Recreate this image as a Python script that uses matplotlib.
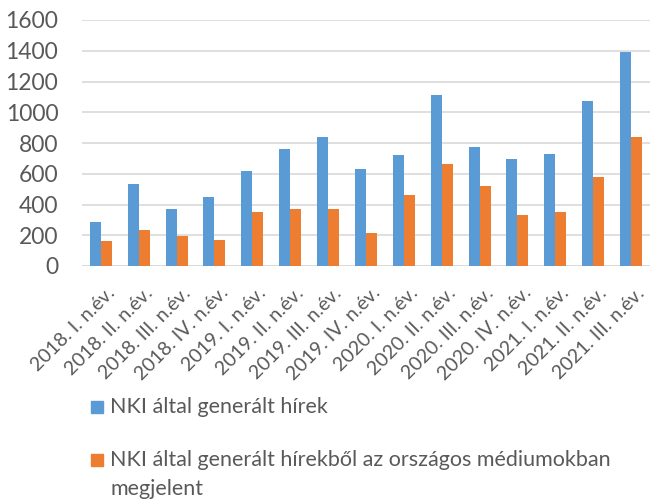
import matplotlib
matplotlib.use("Agg")
import matplotlib.pyplot as plt
import matplotlib.transforms as mtransforms
import numpy as np
from matplotlib.patches import Rectangle

categories = ["2018. I. n.év.", "2018. II. n.év.", "2018. III. n.év.", "2018. IV. n.év.",
              "2019. I. n.év.", "2019. II. n.év.", "2019. III. n.év.", "2019. IV. n.év.",
              "2020. I. n.év.", "2020. II. n.év.", "2020. III. n.év.", "2020. IV. n.év.",
              "2021. I. n.év.", "2021. II. n.év.", "2021. III. n.év."]
generated = [289, 533, 368, 452, 615, 761, 837, 630, 722, 1113, 774, 696, 730, 1076, 1393]
published = [161, 233, 194, 172, 352, 368, 368, 215, 461, 661, 520, 331, 348, 580, 837]
series_names = ["NKI által generált hírek",
                "NKI által generált hírekből az országos médiumokban\nmegjelent"]
yticks = [0, 200, 400, 600, 800, 1000, 1200, 1400, 1600]

blue = "#5B9BD5"
orange = "#ED7D31"
txt = "#595959"
plt.rcParams["font.family"] = ["Lato", "DejaVu Sans"]

fig = plt.figure(figsize=(6.5, 5), dpi=100)
ax = fig.add_axes([0.126, 0.468, 0.874, 0.492])
x = np.arange(len(categories))
w = 0.29
ax.bar(x - w / 2, generated, w, color=blue, zorder=3)
ax.bar(x + w / 2, published, w, color=orange, zorder=3)
ax.set_xlim(-0.5, len(categories) - 0.5)
ax.set_ylim(0, 1600)
ax.set_yticks(yticks)
ax.yaxis.grid(True, color="#d9d9d9", linewidth=1.2, zorder=0)
for s in ax.spines.values():
    s.set_visible(False)
ax.tick_params(axis="both", length=0, colors=txt)
ax.tick_params(axis="y", pad=17, labelsize=16.5)
ax.tick_params(axis="x", pad=13)
ax.set_xticks(x)
ax.set_xticklabels(categories, rotation=45, ha="right", rotation_mode="anchor", fontsize=14)
shift = mtransforms.ScaledTranslation(5 / 100, 0, fig.dpi_scale_trans)
for lab in ax.get_xticklabels():
    lab.set_transform(lab.get_transform() + shift)
ax.axhline(0, color="#d9d9d9", linewidth=1.2, zorder=2)

# legend
for name, col, yc in [(series_names[0], blue, 407), (series_names[1], orange, 460)]:
    fig.patches.append(Rectangle((91 / 650, 1 - (yc + 6) / 500), 12 / 650, 12 / 500,
                                 transform=fig.transFigure, color=col))
    for i, line in enumerate(name.split("\n")):
        fig.text(110 / 650, 1 - (yc + 6 + 29 * i) / 500, line, ha="left", va="baseline",
                 fontsize=15.5, color=txt)

fig.savefig("out.png", dpi=100)
